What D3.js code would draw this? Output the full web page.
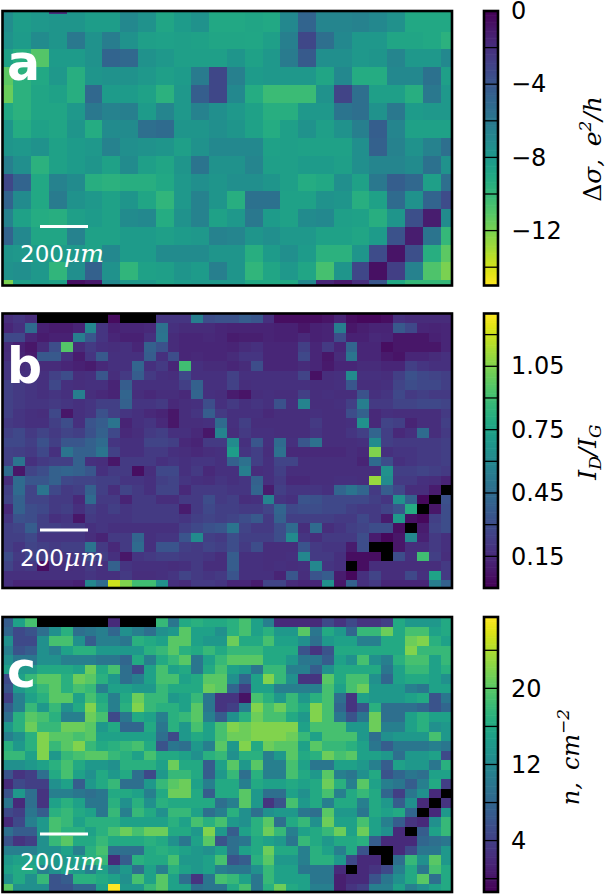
<!DOCTYPE html>
<meta charset="utf-8">
<title>Conductivity, Raman and density maps</title>
<script src="https://d3js.org/d3.v7.min.js"></script>
<style>
  body { margin: 0; background: white; overflow: hidden; }
  text { font-family: "DejaVu Sans"; }
  .math { font-family: "DejaVu Serif"; font-style: italic; }
</style>
<div id="my_dataviz"></div>
<script>

var n = null; // black cells, no data

// panel a, delta sigma in e^2/h
var aValues = [
[-7.3,-8.3,-8,-2,-7.8,-8.3,-8.3,-7,-7.6,-8.8,-8.2,-7.6,-9,-9,-8.8,-9,-7,-4.8,-6.8,-6.8,-6.6,-7,-7.5,-9,-9,-9],
[-7.3,-8.3,-8,-7.8,-7.8,-8.3,-8.3,-7,-7.6,-8.8,-8.2,-7.6,-9,-9,-8.8,-9,-7,-4.8,-6.8,-6.8,-6.6,-7,-7.5,-9,-9,-9],
[-7.6,-8.2,-7.2,-7.8,-6,-7.6,-6.3,-7.6,-8.4,-8.5,-8.4,-8.6,-8.8,-8.8,-8.9,-8.4,-6.4,-3.2,-5.4,-7,-8,-8,-8.8,-8.8,-9,-9.6],
[-8.6,-9.4,-11,-8.2,-8.2,-7.6,-4.8,-5,-7.6,-8,-8.4,-8.4,-8.4,-7.8,-8.6,-8,-6.2,-4.2,-7.4,-7.4,-8,-7.8,-6.8,-8,-8,-7],
[-11.2,-9.6,-9,-8,-9.4,-7.8,-7.6,-7.6,-8,-8.4,-8.2,-6.2,-3.2,-6.5,-8.2,-8,-8,-8,-8.8,-7,-9.2,-9.2,-7,-7,-5.6,-8.4],
[-11.6,-9.6,-8.8,-8.6,-9.4,-5,-8.2,-8.2,-8.6,-9.6,-8,-4.4,-3.2,-7,-9.2,-10.2,-10.2,-10.2,-7.6,-3,-5.4,-8.4,-8.4,-9.4,-6,-8],
[-9,-9.6,-8.8,-8.8,-8,-6,-6.6,-6.4,-8.2,-6.8,-8,-6.6,-7.4,-8,-8.6,-9.4,-9.4,-8,-8,-5.8,-5.4,-7.6,-6,-8.2,-8,-8],
[-7.8,-9.2,-8.6,-8.8,-7.8,-9.2,-7.2,-7.2,-5.4,-5.2,-7.8,-7.8,-7.4,-7.8,-8.6,-9.2,-8.4,-7.6,-8.4,-7.6,-6.4,-4.4,-6.8,-8.6,-8.6,-8.6],
[-7.8,-8,-7.6,-8.6,-8.2,-8,-6.6,-7.4,-7.6,-7.8,-8.4,-7.6,-7,-7,-7,-8.6,-8.4,-8.6,-8.6,-8.6,-7.4,-4.6,-6.6,-7.6,-6.6,-5.4],
[-6.4,-7.4,-9.6,-8.6,-8.2,-7.8,-8.6,-7.2,-8.4,-8.8,-7.8,-5.8,-7.6,-7.6,-6.8,-8.4,-8.4,-8.2,-8.2,-8.4,-7.4,-6.8,-6.8,-7.2,-5.6,-7.6],
[-3.2,-4.8,-9,-6.6,-7.2,-9.4,-9.6,-9.4,-9.4,-9,-8,-7.4,-7.8,-7.4,-7.4,-7.8,-8.4,-9.2,-9,-7.4,-8.6,-6,-4.4,-5,-8.4,-5.4],
[-4.8,-7.2,-9,-6.2,-7.6,-8,-8.6,-7.8,-8.8,-9.8,-8,-6.6,-7.8,-9.4,-5.6,-5.6,-8.6,-8.6,-7.6,-7.8,-9.4,-8.6,-5.2,-7.6,-4.8,-3.4],
[-6.6,-8.6,-9.2,-9.4,-8.4,-8.2,-8.6,-7.2,-7,-9.2,-7.6,-6.6,-8.6,-8,-6,-8.2,-8.6,-7.2,-7,-8.4,-8.6,-9.4,-7.8,-3.6,-1.2,-7.2],
[-4.8,-7,-8.8,-8.8,-6.6,-8.6,-8.6,-8.2,-8.2,-8.4,-8.2,-8,-6.6,-6.8,-7.8,-7.4,-8,-8,-8.6,-8.6,-8.8,-8.2,-3.8,-1.2,-5.8,-10],
[-7.8,-8,-8.2,-8.2,-8,-8.6,-7,-8.2,-8.2,-7.2,-7.2,-7.2,-7.8,-7.8,-9.4,-8.2,-7.4,-8.2,-9.6,-9.6,-7.8,-3.4,-0.8,-3.6,-9.4,-11.2],
[-7.6,-7.4,-8,-9.8,-7.4,-4.6,-7.6,-9.8,-8.6,-8.4,-7.8,-8.2,-6.4,-7.8,-9.8,-8.8,-8,-8.8,-10.6,-7.8,-3.2,-0.6,-2.8,-6.6,-10.8,-12],
[-12,-8.4,-8.2,-8.6,-0.6,-1,-7,-8,-8,-8.6,-8.2,-8,-8,-8,-9,-9,-9,-7,-1.6,-1,-2,-4,-9,-10,-10,-10]
];

// panel b, I_D/I_G x 100
var bValues = [
[17,20,16,n,n,n,n,n,n,4,n,n,n,20,20,20,55,30,33,33,38,35,18,5,5,5,5,7,13,5,3,3,5,18,16,16,16,16],
[14,18,45,12,10,10,13,60,20,12,14,14,15,48,18,16,16,16,14,13,13,13,13,12,12,8,12,13,55,8,11,13,13,36,28,14,13,14],
[28,28,14,10,12,12,55,35,20,14,12,12,18,50,16,14,14,15,14,10,11,11,13,12,12,15,12,13,30,12,12,15,14,8,8,8,12,14],
[16,12,8,16,30,95,16,22,18,17,18,14,40,32,16,14,14,14,14,13,16,18,14,14,14,24,14,22,14,42,14,14,5,8,8,8,8,14],
[17,13,9,36,36,18,10,20,36,18,18,18,38,18,30,14,15,14,14,16,20,20,14,14,14,28,14,8,16,50,14,14,9,7,14,14,16,18],
[20,16,18,16,16,14,12,10,15,18,18,42,18,22,14,90,18,16,16,14,16,30,14,14,14,16,14,9,14,14,16,16,14,14,24,20,18,18],
[20,18,18,18,25,30,17,18,35,17,22,38,22,18,17,28,18,18,18,25,18,18,18,18,18,26,6,17,18,62,18,18,17,24,32,28,26,24],
[25,22,20,18,28,18,17,18,18,13,38,18,18,18,18,24,40,18,18,25,17,18,18,18,18,18,17,17,18,35,17,17,18,26,30,28,28,24],
[25,22,20,18,20,18,55,17,15,13,42,17,15,17,17,15,42,18,17,10,7,17,18,17,17,24,17,18,17,17,33,18,20,28,22,24,22,22],
[25,22,20,20,22,20,18,20,24,24,40,20,20,22,15,17,18,30,18,22,18,20,18,32,18,58,17,17,18,24,55,22,22,26,26,28,28,26],
[25,20,18,17,28,8,18,20,32,24,20,18,15,13,8,17,20,38,22,18,18,18,15,17,17,17,18,17,17,30,40,15,18,17,17,17,17,22],
[22,20,18,18,24,30,18,34,38,50,13,18,20,15,8,17,17,18,45,18,24,17,17,17,17,17,22,17,17,18,65,15,26,24,13,17,17,24],
[25,28,22,26,22,26,24,32,40,28,15,17,22,24,18,18,15,8,58,17,22,18,18,17,17,17,20,17,17,20,24,42,24,15,18,45,17,22],
[28,28,24,32,24,35,35,40,45,20,18,18,26,26,24,15,13,22,22,62,18,35,18,45,18,35,48,17,17,17,18,62,24,22,22,22,22,24],
[25,24,22,28,18,50,40,40,50,25,18,18,22,22,18,17,15,17,18,72,20,24,17,48,15,15,15,15,15,17,15,105,18,20,20,22,22,24],
[25,50,18,22,24,24,40,18,17,8,22,22,22,18,20,18,20,20,18,40,48,24,18,26,26,17,17,17,17,17,13,45,30,18,20,22,22,24],
[45,8,26,30,40,42,40,35,18,22,22,5,17,28,28,18,22,15,18,18,55,17,18,24,17,17,17,17,17,17,17,17,65,24,24,26,24,22],
[17,45,35,35,40,28,26,26,24,24,20,20,18,24,26,20,18,17,20,18,20,40,18,22,15,15,17,17,18,18,17,110,62,22,22,18,17,13],
[24,45,26,50,28,22,24,40,24,17,26,22,18,26,26,15,22,22,22,20,20,42,10,24,20,20,20,18,42,50,42,22,38,28,17,17,10,n],
[26,40,26,26,22,22,15,45,22,22,13,22,22,17,17,22,22,30,22,24,17,18,58,20,18,34,32,28,28,28,28,24,20,65,40,3,n,32],
[15,40,30,28,22,24,18,24,20,24,20,22,22,22,22,10,22,28,24,24,22,22,26,42,28,30,30,28,28,24,22,22,26,34,80,n,8,30],
[20,32,30,24,18,20,8,22,20,20,20,22,22,22,22,20,24,26,24,26,30,36,22,40,24,24,24,24,22,22,28,22,10,70,6,3,24,30],
[24,26,38,24,24,22,22,18,20,18,18,18,18,18,18,24,28,32,35,50,26,22,22,30,45,17,45,17,20,24,26,30,30,5,n,10,26,30],
[24,24,28,20,20,20,20,17,13,22,22,42,18,20,20,34,62,24,22,30,24,24,24,30,62,20,17,22,22,22,30,10,3,8,60,12,22,18],
[24,20,26,24,22,24,24,50,22,15,22,45,18,34,34,24,22,26,24,30,22,30,17,17,17,34,22,20,20,10,30,n,n,8,17,17,22,18],
[30,22,26,24,22,20,22,30,24,18,8,20,22,24,24,22,22,20,17,38,18,18,17,17,18,60,22,22,18,5,5,5,n,30,18,90,24,17],
[26,20,22,5,18,17,18,22,18,40,20,18,18,18,17,18,22,17,17,38,18,18,17,18,17,18,60,20,18,n,5,17,17,17,17,17,17,22],
[18,18,18,18,18,18,18,20,18,18,22,17,17,18,20,26,22,20,22,34,18,18,18,13,35,17,34,38,10,3,18,26,17,17,28,18,75,22],
[18,14,14,14,14,14,12,60,45,120,105,90,90,65,18,16,22,22,20,14,14,10,26,26,16,14,14,65,8,40,18,22,14,14,14,14,55,40]
];

// panel c, carrier density
var cValues = [
[7,15,19,n,n,n,n,n,n,2,n,n,n,18,10,16,17,16,16,17,19,15,11,2,2,2,2,5,3,5,3,3,4,16,14,14,14,16],
[8,5,6,9,13,17,9,10,11,8,13,11,9,13,14,20,15,15,13,17,19,15,17,14,14,20,10,16,14,8,18,18,21,16,19,19,15,16],
[13,5,5,13,19,19,13,7,11,11,10,17,16,15,20,20,15,14,14,21,16,16,19,15,15,13,9,14,15,15,11,11,16,16,21,22,17,15],
[11,6,7,13,11,15,17,17,14,14,14,14,17,18,20,17,16,18,16,18,18,18,16,16,16,6,3,6,16,16,16,16,16,16,22,18,18,18],
[13,10,10,13,13,11,11,11,10,10,8,16,11,16,18,20,10,15,18,20,20,20,16,16,14,10,10,7,15,13,19,13,11,17,19,19,15,18],
[15,14,14,16,16,16,15,21,16,19,9,5,15,19,15,16,10,16,19,15,14,10,18,18,11,11,7,13,16,16,16,16,10,15,18,18,15,17],
[5,15,18,20,20,17,21,20,17,14,9,11,15,19,19,15,16,20,20,13,8,15,22,18,13,3,3,20,16,19,19,13,8,15,16,16,15,13],
[6,14,16,18,20,17,19,18,11,15,15,14,14,18,16,16,16,21,20,8,4,15,15,11,11,11,11,19,15,19,21,14,14,14,11,10,15,15],
[4,11,15,17,20,20,15,19,16,11,16,21,18,18,14,15,18,10,3,3,0,19,17,14,18,14,17,19,9,3,15,14,14,14,15,16,6,10],
[7,11,18,14,18,13,16,22,17,11,17,22,18,17,17,15,20,10,3,4,11,22,19,21,18,16,22,19,8,3,6,17,9,9,9,8,6,8],
[9,17,20,19,17,11,11,21,19,5,10,16,15,11,17,18,20,11,7,13,17,21,19,19,16,14,22,19,10,6,10,21,9,9,15,17,15,15],
[14,17,21,18,18,21,21,20,14,16,8,8,16,10,17,14,19,15,19,22,21,22,22,22,22,15,19,19,19,14,14,21,11,11,15,17,13,14],
[11,13,17,22,20,20,19,20,15,15,15,15,15,9,5,14,16,15,19,21,21,22,22,22,21,18,15,19,19,19,14,9,13,14,14,14,19,14],
[17,14,17,22,18,20,22,18,16,17,18,19,16,6,10,9,14,11,20,14,22,16,21,20,20,15,20,18,18,17,15,10,7,10,10,10,11,10],
[18,18,15,22,14,18,19,20,20,18,17,15,19,16,16,15,13,17,18,13,17,17,11,14,20,16,17,21,19,20,15,15,14,9,14,14,15,5],
[13,13,14,15,17,19,16,14,14,13,17,17,17,15,21,16,16,7,15,20,14,20,11,11,19,15,10,10,15,15,14,11,7,15,14,14,10,17],
[6,3,4,9,16,19,15,13,16,14,16,9,5,14,18,18,16,7,14,18,9,17,11,11,19,16,14,20,11,10,13,16,6,8,10,9,15,15],
[2,5,4,4,13,15,7,14,16,18,9,9,14,18,20,21,15,11,16,16,11,16,15,15,16,15,16,21,17,11,20,15,11,10,7,11,16,4],
[6,14,9,3,11,11,10,9,10,16,16,15,11,16,21,21,16,7,16,16,20,14,9,9,15,13,16,19,11,16,18,16,8,4,10,13,2,n],
[10,2,9,3,15,17,15,10,10,17,13,17,13,17,16,16,16,16,9,11,20,14,3,6,19,14,16,11,16,16,11,16,14,7,13,2,n,3],
[5,4,10,7,17,18,16,15,10,18,11,18,16,13,18,18,15,9,11,17,13,9,13,14,14,10,9,20,14,14,10,16,15,16,8,n,2,14],
[2,5,11,14,19,18,15,17,17,17,15,15,15,15,17,15,19,17,19,14,13,17,20,9,16,18,13,21,15,15,19,15,11,7,3,2,13,18],
[9,7,7,14,19,17,17,15,17,19,21,19,21,21,16,16,14,22,14,7,15,17,21,18,11,15,16,18,21,15,21,15,13,2,n,7,15,18],
[6,3,4,13,18,20,16,16,18,16,16,16,17,16,13,10,15,20,6,9,10,16,15,14,10,18,16,14,16,16,17,7,2,2,2,8,9,10],
[11,11,11,13,13,15,11,17,19,9,9,9,16,17,16,15,14,13,15,9,15,16,21,16,16,11,17,15,11,16,6,n,n,2,5,10,10,14],
[14,15,15,15,14,14,15,17,18,2,7,17,16,16,19,14,14,15,19,6,7,17,20,14,14,11,17,17,14,5,2,2,n,9,18,13,20,14],
[15,16,16,11,13,15,14,11,15,11,14,9,15,11,17,15,14,15,11,10,10,13,18,15,15,10,10,10,2,n,2,3,5,11,16,10,19,16],
[13,16,13,18,6,7,17,17,16,15,13,19,15,20,15,9,3,10,19,18,15,10,18,15,15,15,10,10,1,2,2,6,10,13,16,20,9,16],
[20,13,13,13,6,6,8,8,15,27.5,14,14,18,20,15,15,9,10,10,16,19,10,17,21,16,15,11,11,1,3,4,11,11,15,11,13,15,16]
];

// colorbar ticks and band edges
var aTicks = [0, -4, -8, -12];
var bTicks = [0.15, 0.45, 0.75, 1.05];
var cTicks = [4, 12, 20];
var aEdges = [-2, -4, -6, -8, -10, -12, -14];
var bEdges = [0.15, 0.3, 0.45, 0.6, 0.75, 0.9, 1.05, 1.2];
var cEdges = [0, 4, 8, 12, 16, 20, 24];

var width = 608, height = 895;
var left = 2.5, right = 452, barLeft = 484, barRight = 498;

var svg = d3.select("#my_dataviz")
  .append("svg")
    .attr("width", width)
    .attr("height", height);

function drawPanel(id, values, cfg) {
  var color = d3.scaleSequential(d3.interpolateViridis).domain(cfg.domain);

  // cell edges, first and last rows and columns get cut by the frame
  var x = d3.scaleLinear().domain(cfg.xd).range([13.3, 440.5]);
  var y = d3.scaleLinear().domain(cfg.yd).range(cfg.yr);

  svg.append("clipPath").attr("id", "clip" + id)
    .append("rect")
      .attr("x", left).attr("y", cfg.top)
      .attr("width", right - left).attr("height", cfg.bottom - cfg.top);

  var g = svg.append("g")
    .attr("clip-path", "url(#clip" + id + ")")
    .attr("shape-rendering", "crispEdges");
  values.forEach(function(row, r) {
    g.selectAll(".r" + r)
      .data(row)
      .enter()
      .append("rect")
        .attr("x", function(d, c) { return x(c); })
        .attr("y", y(r))
        .attr("width", function(d, c) { return x(c + 1) - x(c) + 0.5; })
        .attr("height", y(r + 1) - y(r) + 0.5)
        .attr("fill", function(d) { return d === null ? "black" : color(cfg.scale ? d / cfg.scale : d); });
  });

  svg.append("rect")
    .attr("x", left).attr("y", cfg.top)
    .attr("width", right - left).attr("height", cfg.bottom - cfg.top)
    .attr("fill", "none").attr("stroke", "black").attr("stroke-width", 2.6);

  // panel letter
  svg.append("text")
    .attr("x", 7).attr("y", cfg.letterY)
    .attr("fill", "white")
    .attr("font-size", "49px")
    .attr("font-weight", "bold")
    .text(id);

  // scale bar
  svg.append("line")
    .attr("x1", 40).attr("x2", 88)
    .attr("y1", cfg.barY).attr("y2", cfg.barY)
    .attr("stroke", "white").attr("stroke-width", 3);
  var sb = svg.append("text")
    .attr("x", 20).attr("y", cfg.barY + 35.5)
    .attr("fill", "white")
    .attr("font-size", "23px");
  sb.append("tspan").text("200");
  sb.append("tspan").attr("class", "math").attr("font-size", "25px").text("μm");

  // colorbar
  var cy = d3.scaleLinear().domain(cfg.cbDomain).range([cfg.bottom, cfg.top]);
  var levels = d3.range(0, 120).map(function(i) {
    return cfg.cbDomain[0] + (cfg.cbDomain[1] - cfg.cbDomain[0]) * i / 120;
  });
  var step = (cfg.cbDomain[1] - cfg.cbDomain[0]) / 120;
  svg.append("g").selectAll("rect")
    .data(levels)
    .enter()
    .append("rect")
      .attr("x", barLeft).attr("width", barRight - barLeft)
      .attr("y", function(d) { return cy(d + step) - 0.3; })
      .attr("height", function(d) { return cy(d) - cy(d + step) + 0.6; })
      .attr("fill", function(d) { return color(d + step / 2); });

  svg.append("g").selectAll("line")
    .data(cfg.edges)
    .enter()
    .append("line")
      .attr("x1", barLeft).attr("x2", barRight)
      .attr("y1", function(d) { return cy(d); })
      .attr("y2", function(d) { return cy(d); })
      .attr("stroke", "black").attr("stroke-width", 1.3);

  svg.append("rect")
    .attr("x", barLeft).attr("y", cfg.top)
    .attr("width", barRight - barLeft).attr("height", cfg.bottom - cfg.top)
    .attr("fill", "none").attr("stroke", "black").attr("stroke-width", 2.6);

  var axis = svg.append("g")
    .attr("transform", "translate(" + barRight + ",0)")
    .call(d3.axisRight(cy).tickValues(cfg.ticks).tickSize(0).tickPadding(13).tickFormat(cfg.fmt));
  axis.select(".domain").remove();
  axis.selectAll("text")
    .attr("fill", "black")
    .style("font-family", "DejaVu Sans")
    .style("font-size", "24px");

  // rotated label, centred by hand because of the shifted tspans
  var lab = svg.append("text")
    .attr("class", "math")
    .attr("transform", "translate(" + cfg.labelX + "," + cfg.labelY + ") rotate(-90)")
    .attr("fill", "black")
    .attr("font-size", cfg.labelSize + "px");
  cfg.label.forEach(function(p) {
    lab.append("tspan")
      .attr("dy", p.dy || 0)
      .attr("font-size", p.size ? p.size + "px" : null)
      .attr("font-style", p.upright ? "normal" : null)
      .text(p.t);
  });
  lab.attr("x", -lab.node().getComputedTextLength() / 2);
}

drawPanel("a", aValues, {
  domain: [0, -15], cbDomain: [-15, 0],
  xd: [1, 25], yd: [1, 16], yr: [13.9, 280],
  top: 11, bottom: 285.5,
  letterY: 80, barY: 226.5,
  ticks: aTicks, edges: aEdges, fmt: d3.format("d"),
  labelX: 601, labelY: 149, labelSize: 25,
  label: [{t: "Δ", upright: true}, {t: "σ,\u2002e"}, {t: "2", dy: -10, size: 17}, {t: "/h", dy: 10}]
});

drawPanel("b", bValues, {
  domain: [0, 1.3], scale: 100, cbDomain: [0, 1.3],
  xd: [1, 37], yd: [1, 28], yr: [323.3, 580.3],
  top: 313.5, bottom: 588,
  letterY: 383, barY: 530,
  ticks: bTicks, edges: bEdges, fmt: d3.format(".2f"),
  labelX: 596, labelY: 452, labelSize: 25,
  label: [{t: "I"}, {t: "D", dy: 5, size: 17}, {t: "/I", dy: -5}, {t: "G", dy: 5, size: 17}]
});

drawPanel("c", cValues, {
  domain: [-1.4, 27.5], cbDomain: [-1.4, 27.5],
  xd: [1, 37], yd: [1, 28], yr: [626.7, 884],
  top: 617, bottom: 892,
  letterY: 687, barY: 834,
  ticks: cTicks, edges: cEdges, fmt: d3.format("d"),
  labelX: 579, labelY: 757, labelSize: 24,
  label: [{t: "n,\u2002cm"}, {t: "−2", dy: -10, size: 17}]
});

</script>
